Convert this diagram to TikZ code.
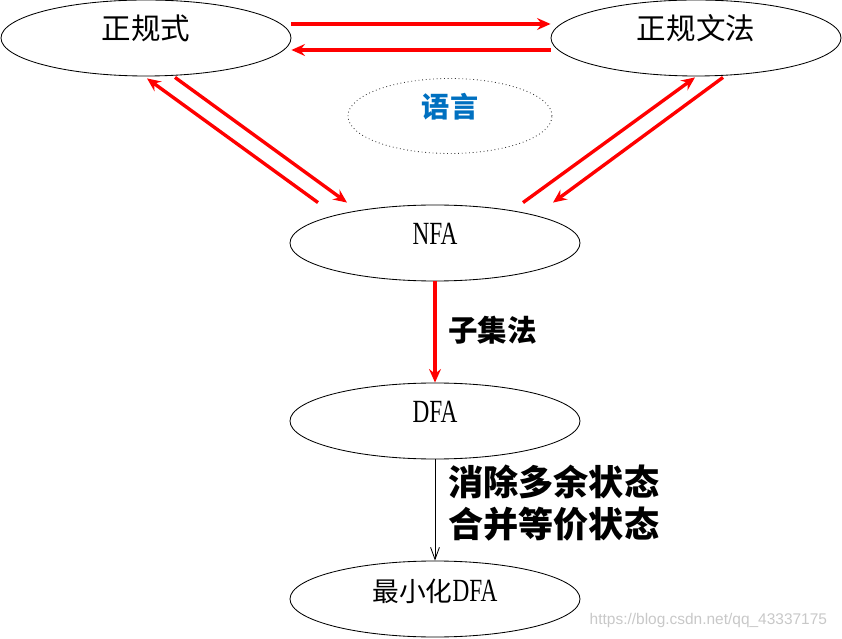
\documentclass[tikz,border=0pt]{standalone}
\usepackage{fontspec}
\usepackage{xcolor}
\usetikzlibrary{arrows.meta,shapes.geometric}
\newfontfamily\cjk{Noto Sans CJK SC}
\newfontfamily\latn[FakeStretch=0.72]{Liberation Serif}
\newfontfamily\wmark{Liberation Sans}
\definecolor{langblue}{RGB}{0,112,192}
\definecolor{wmgray}{RGB}{200,200,200}

\begin{document}
\begin{tikzpicture}[
  oval/.style={ellipse, draw, line width=0.6pt, minimum width=7.25cm, minimum height=1.9cm,
    inner sep=0pt, text height=0.55cm, text depth=0.45cm, font={\cjk\fontsize{21}{21}\selectfont}},
  redarr/.style={draw=red, line width=2.4pt, -{Stealth[length=0.34cm, width=0.3cm, inset=0.12cm]}},
  blackarr/.style={draw=black, line width=0.6pt, -{Straight Barb[length=0.3cm, width=0.22cm]}},
  lbl/.style={anchor=west, inner sep=0pt, font={\cjk\bfseries}}
]
\useasboundingbox (0,0) rectangle (21.05,-15.975);
\node[oval] (re) at (3.65,-0.95) {正规式};
\node[oval] (rg) at (17.4,-0.95) {正规文法};
\node[oval, draw=black!80, dotted, minimum width=5.1cm, minimum height=1.875cm,
  font={\cjk\bfseries\fontsize{20}{20}\selectfont}, text=langblue] (lang) at (11.25,-2.9) {语言};
\node[oval] (nfa) at (10.875,-6.075) {\latn\fontsize{23}{23}\selectfont NFA};
\node[oval] (dfa) at (10.875,-10.525) {\latn\fontsize{23}{23}\selectfont DFA};
\node[oval] (min) at (10.875,-14.975) {{\fontsize{19}{19}\selectfont 最小化}{\latn\fontsize{23}{23}\selectfont DFA}};

\draw[redarr] ([yshift=0.35cm]re.east) -- ([yshift=0.35cm]rg.west);
\draw[redarr] ([yshift=-0.3cm]rg.west) -- ([yshift=-0.3cm]re.east);
\draw[redarr] ([shift={(-2.925,0.05)}]nfa.north) -- ([shift={(0.025,-0.05)}]re.south);
\draw[redarr] ([shift={(0.725,-0.025)}]re.south) -- ([shift={(-2.2,0.05)}]nfa.north);
\draw[redarr] ([shift={(2.2,0.05)}]nfa.north) -- ([shift={(-0.025,-0.025)}]rg.south);
\draw[redarr] ([shift={(0.675,-0.025)}]rg.south) -- ([shift={(2.95,0.05)}]nfa.north);
\draw[redarr] (nfa.south) -- (dfa.north);
\draw[blackarr] (dfa.south) -- (min.north);

\node[lbl, font={\cjk\bfseries\fontsize{21}{21}\selectfont}] (subset) at (11.2,-8.25) {子集法};
\node[lbl, align=left, font={\cjk\bfseries\fontsize{25}{30}\selectfont}] (minsteps) at (11.2,-12.575)
  {消除多余状态\\合并等价状态};
\node[anchor=east, text=wmgray, font={\wmark\fontsize{11}{11}\selectfont}] (wm) at (20.8,-15.5)
  {https://blog.csdn.net/qq\_43337175};
\end{tikzpicture}
\end{document}
